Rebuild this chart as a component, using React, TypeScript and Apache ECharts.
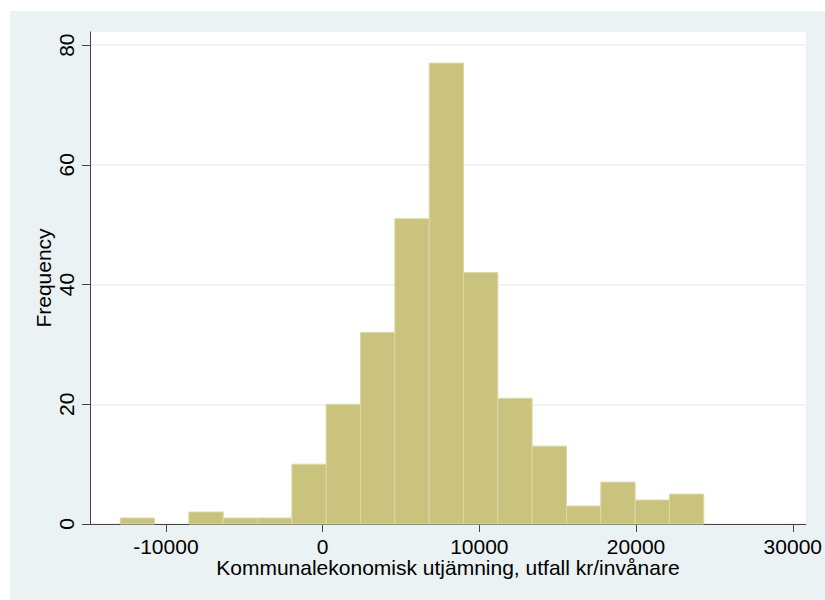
import React, { useEffect, useRef } from "react";
import * as echarts from "echarts";

const binStarts = [-12910, -10720, -8530, -6340, -4150, -1960, 230, 2420, 4610, 6800, 8990, 11180, 13370, 15560, 17750, 19940, 22130];
const binEnds = [-10720, -8530, -6340, -4150, -1960, 230, 2420, 4610, 6800, 8990, 11180, 13370, 15560, 17750, 19940, 22130, 24320];
const counts = [1, 0, 2, 1, 1, 10, 20, 32, 51, 77, 42, 21, 13, 3, 7, 4, 5];
const xTicks = [-10000, 0, 10000, 20000, 30000];
const yTicks = [0, 20, 40, 60, 80];

const FONT = "'Liberation Sans', Arial, sans-serif";

export default function App() {
  const ref = useRef<HTMLDivElement>(null);
  useEffect(() => {
    if (!ref.current) return;
    const chart = echarts.init(ref.current, null, { renderer: "svg" });
    const data = counts.map((c, i) => [binStarts[i], binEnds[i], c]);
    chart.setOption({
      animation: false,
      backgroundColor: "#eaf2f3",
      grid: {
        left: 80,
        top: 21,
        right: 18,
        bottom: 76,
        show: true,
        backgroundColor: "#ffffff",
        borderWidth: 0,
      },
      xAxis: {
        type: "value",
        min: -14840,
        max: 30830,
        name: "Kommunalekonomisk utjämning, utfall kr/invånare",
        nameLocation: "middle",
        nameGap: 33,
        nameMoveOverlap: false,
        nameTextStyle: { fontFamily: FONT, fontSize: 21, color: "#000", lineHeight: 21 },
        axisLine: { show: true, onZero: false, lineStyle: { color: "#444", width: 1 } },
        axisTick: { show: true, length: 8, inside: false, customValues: xTicks, lineStyle: { color: "#444" } },
        axisLabel: {
          customValues: xTicks,
          margin: 12,
          fontFamily: FONT,
          fontSize: 21,
          lineHeight: 21,
          color: "#000",
          formatter: (v: number) => String(v),
          showMinLabel: true,
          showMaxLabel: true,
        },
        splitLine: { show: false },
      },
      yAxis: {
        type: "value",
        min: 0,
        max: 82.2,
        name: "Frequency",
        nameLocation: "middle",
        nameRotate: 90,
        nameGap: 36,
        nameMoveOverlap: false,
        nameTextStyle: { fontFamily: FONT, fontSize: 21, color: "#000" },
        axisLine: { show: true, onZero: false, lineStyle: { color: "#444", width: 1 } },
        axisTick: { show: true, length: 8, customValues: yTicks, lineStyle: { color: "#444" } },
        axisLabel: {
          customValues: yTicks,
          rotate: 90,
          margin: 13,
          fontFamily: FONT,
          fontSize: 21,
          color: "#000",
          formatter: (v: number) => String(v),
        },
        splitLine: { show: true, lineStyle: { color: "#e8f0f2", width: 1.5 } },
      },
      series: [
        {
          type: "custom",
          data,
          encode: { x: [0, 1], y: 2 },
          renderItem: (params: any, api: any) => {
            const s = api.value(0);
            const e = api.value(1);
            const c = api.value(2);
            if (!c) return null;
            const p0 = api.coord([s, c]);
            const p1 = api.coord([e, 0]);
            return {
              type: "rect",
              shape: { x: p0[0], y: p0[1], width: p1[0] - p0[0], height: p1[1] - p0[1] },
              style: { fill: "#c9c37e", stroke: "#dcd8a6", lineWidth: 1 },
            };
          },
        },
      ],
    });
    return () => chart.dispose();
  }, []);
  return (
    <div
      ref={ref}
      style={{ position: "absolute", left: 10, top: 11, width: 815, height: 589 }}
    />
  );
}
